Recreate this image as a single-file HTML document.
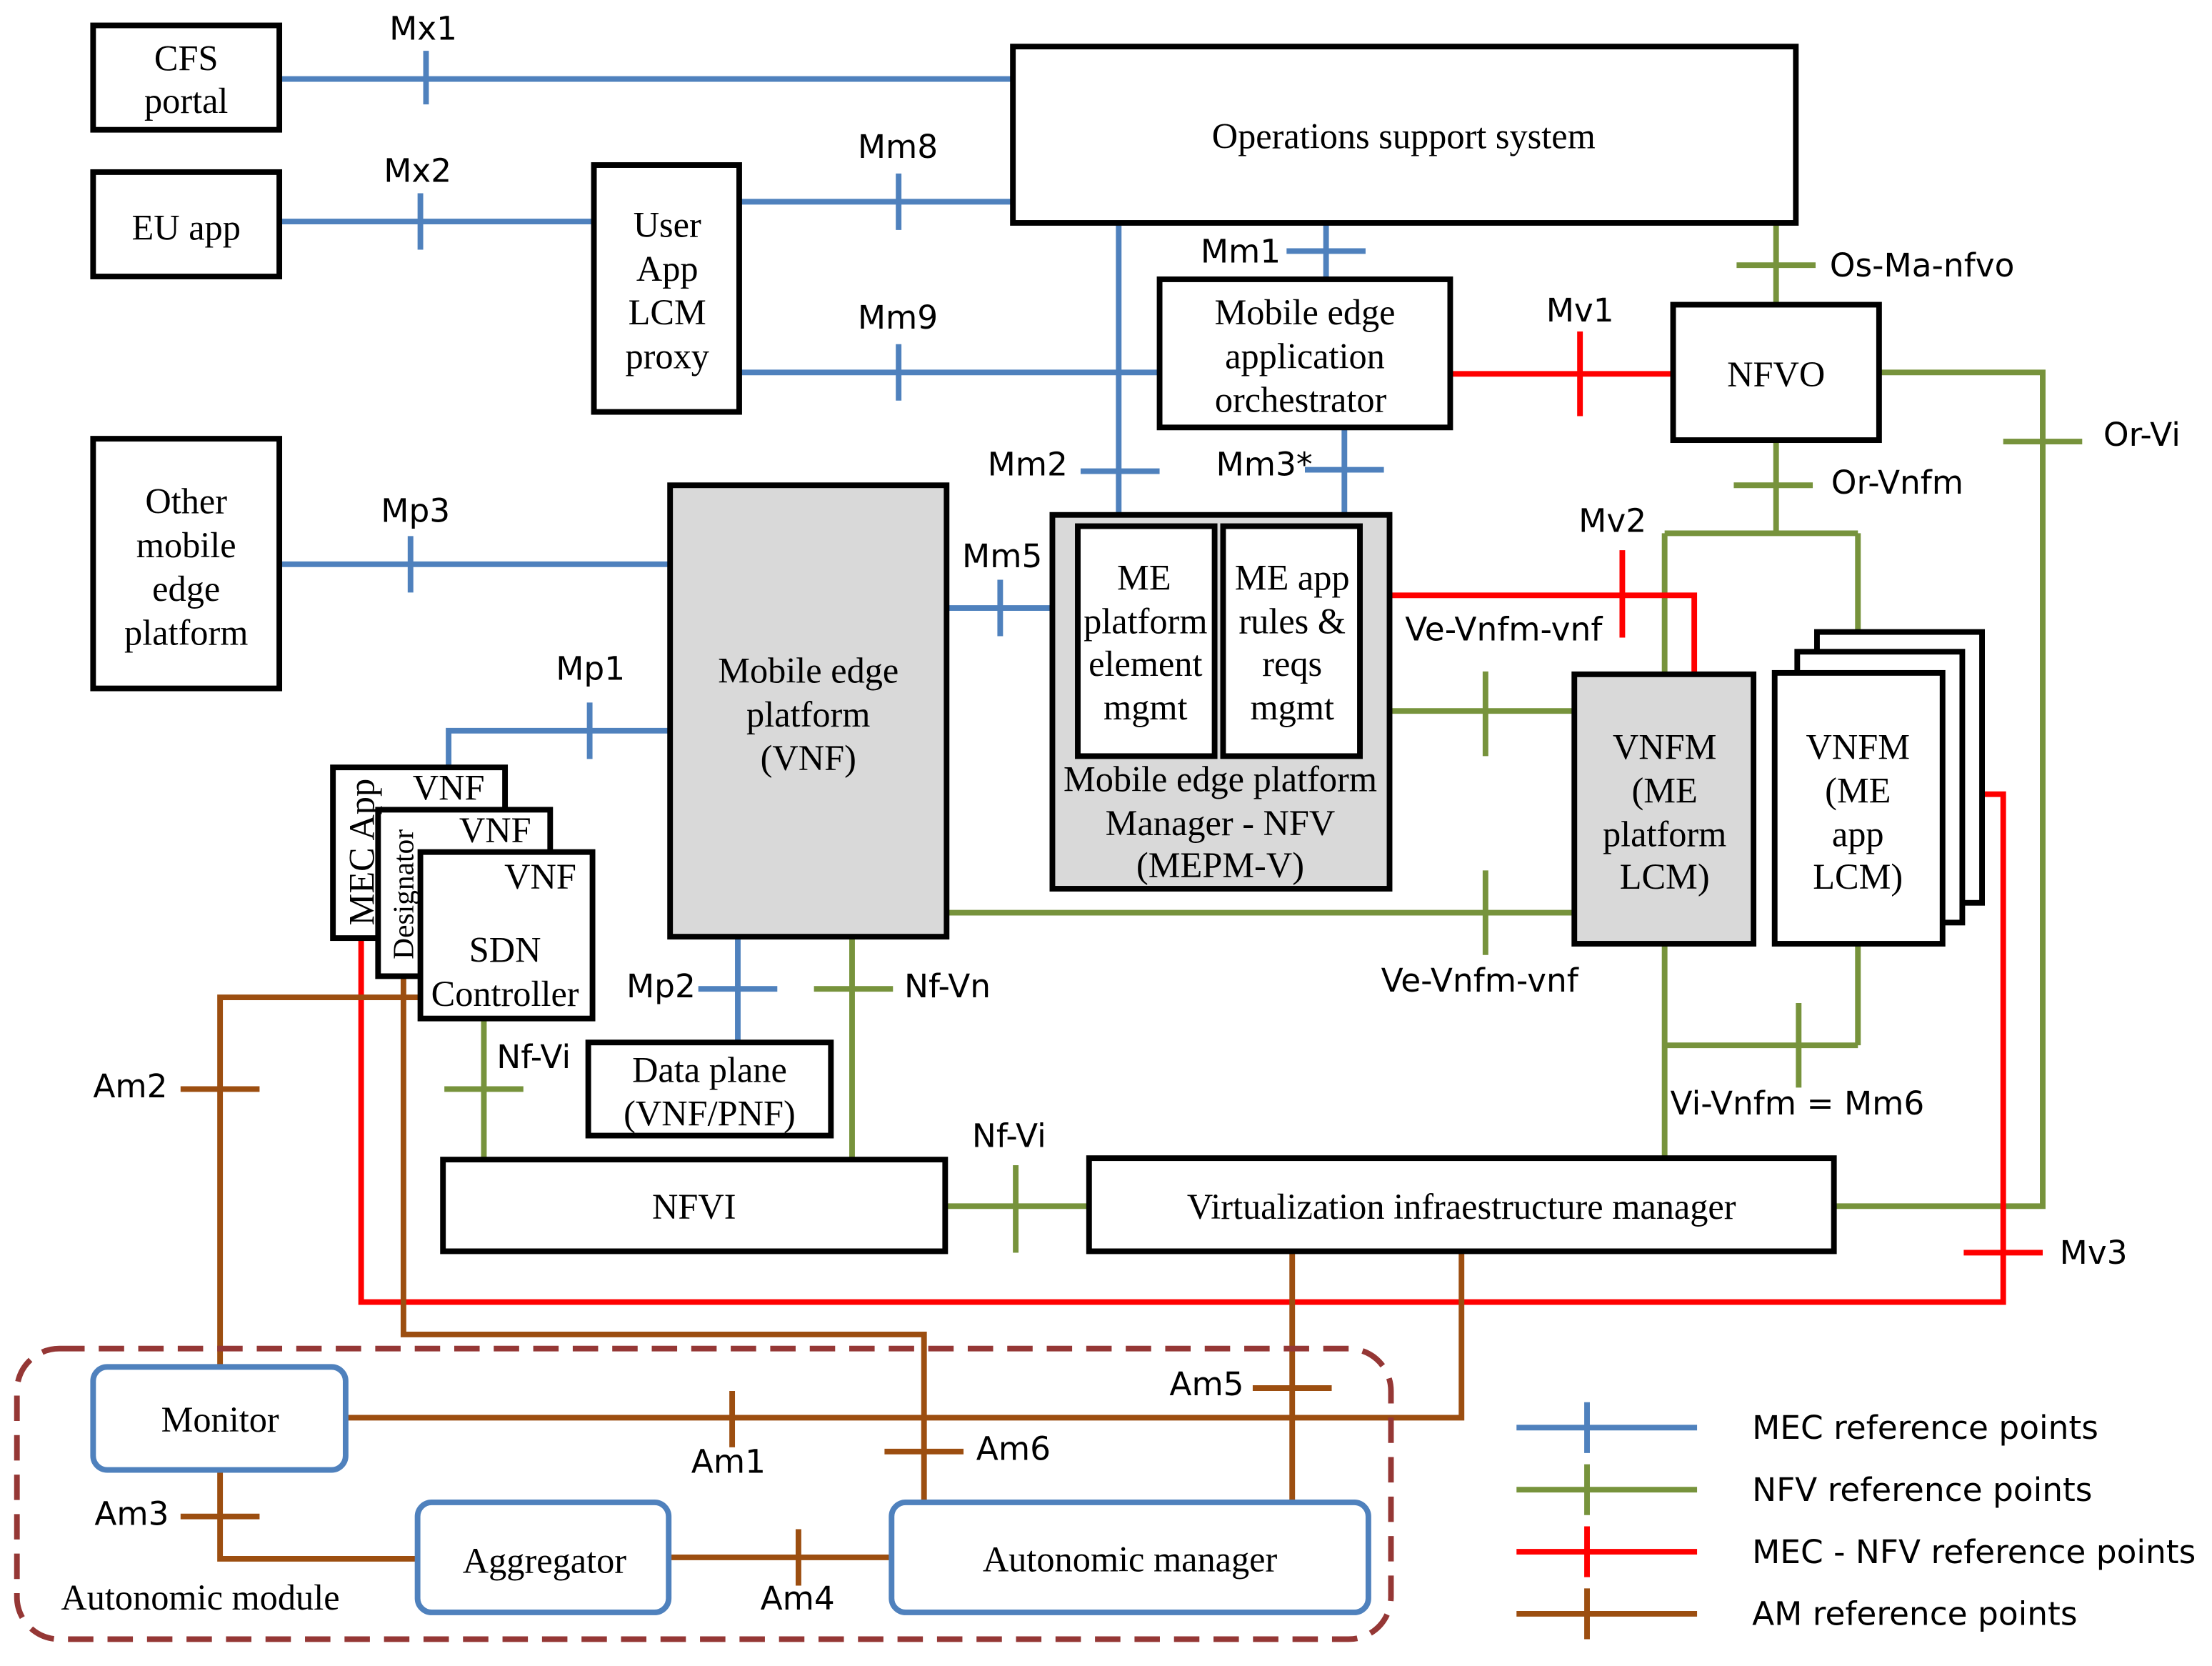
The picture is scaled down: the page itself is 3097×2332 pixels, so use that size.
<!DOCTYPE html>
<html><head><meta charset="utf-8"><style>
html,body{margin:0;padding:0;background:#fff}
svg{display:block}
.s{font-family:"DejaVu Sans","Liberation Sans",sans-serif;font-size:23px;fill:#000}
.r{font-family:"Liberation Serif",serif;font-size:25.5px;fill:#000;text-anchor:middle}
</style></head><body>
<svg width="3097" height="2332" viewBox="0 0 1568 1181" preserveAspectRatio="none" xmlns="http://www.w3.org/2000/svg">
<rect width="1600" height="1200" fill="#fff"/>
<g stroke="#4f81bd" stroke-width="4" fill="none">
<path d="M198 56H718M302 36V74"/>
<path d="M198 157H421M298 137V177"/>
<path d="M524 143H718M637 123V163"/>
<path d="M524 264H822M637 244V284"/>
<path d="M793 158V365M766 334H822"/>
<path d="M940 158V198M912 178H968"/>
<path d="M953 303V365M925 333H981"/>
<path d="M198 400H475M291 380V420"/>
<path d="M671 431H746M709 411V451"/>
<path d="M318 544V518H475M418 498V538"/>
<path d="M523 664V739M495 701H551"/>
</g>
<g stroke="#77933c" stroke-width="4" fill="none">
<path d="M1259 158V216M1231 188H1287"/>
<path d="M1332 264H1448V855H1300M1420 313H1476"/>
<path d="M1259 312V378M1229 344H1285M1180 378H1317M1180 378V478M1317 378V477"/>
<path d="M985 504H1116M1053 476V536"/>
<path d="M671 647H1116M1053 617V677"/>
<path d="M604 664V822M577 701H633"/>
<path d="M343 722V822M315 772H371"/>
<path d="M670 855H772M720 826V888"/>
<path d="M1180 669V821M1180 741H1317M1317 669V741M1275 711V771"/>
</g>
<g stroke="#ff0000" stroke-width="4" fill="none">
<path d="M1028 265H1186M1120 235V295"/>
<path d="M985 422H1201V478M1150 390V452"/>
<path d="M1377 563H1420V923H256V665M1392 888H1448"/>
</g>
<g stroke="#9c4e10" stroke-width="4" fill="none">
<path d="M298 707H156V969M128 772H184"/>
<path d="M286 692V946H655V1065M627 1029H683"/>
<path d="M916 887V1065M888 984H944"/>
<path d="M245 1005H1036V887M519 986V1026"/>
<path d="M156 1042V1105H296M128 1075H184"/>
<path d="M474 1104H632M566 1084V1124"/>
</g>
<g stroke="#000" stroke-width="4" fill="#fff">
<rect x="66" y="18" width="132" height="74"/>
<rect x="66" y="122" width="132" height="74"/>
<rect x="421" y="117" width="103" height="175"/>
<rect x="718" y="33" width="555" height="125"/>
<rect x="822" y="198" width="206" height="105"/>
<rect x="1186" y="216" width="146" height="96"/>
<rect x="66" y="311" width="132" height="177"/>
<rect x="475" y="344" width="196" height="320" fill="#d9d9d9"/>
<rect x="746" y="365" width="239" height="265" fill="#d9d9d9"/>
<rect x="764" y="373" width="97" height="163"/>
<rect x="867" y="373" width="97" height="163"/>
<rect x="1116" y="478" width="127" height="191" fill="#d9d9d9"/>
<rect x="1288" y="448" width="117" height="192"/>
<rect x="1274" y="462" width="117" height="192"/>
<rect x="1258" y="477" width="119" height="192"/>
<rect x="236" y="544" width="122" height="121"/>
<rect x="268" y="574" width="122" height="118"/>
<rect x="298" y="604" width="122" height="118"/>
<rect x="417" y="739" width="172" height="66"/>
<rect x="314" y="822" width="356" height="65"/>
<rect x="772" y="821" width="528" height="66"/>
</g>
<rect x="12" y="956" width="974" height="206" rx="30" fill="none" stroke="#953735" stroke-width="4" stroke-dasharray="18,10"/>
<g stroke="#4f81bd" stroke-width="4" fill="#fff">
<rect x="66" y="969" width="179" height="73" rx="10"/>
<rect x="296" y="1065" width="178" height="78" rx="10"/>
<rect x="632" y="1065" width="338" height="78" rx="10"/>
</g>
<g stroke-width="4">
<path d="M1075 1012H1203M1125 994V1030" stroke="#4f81bd"/>
<path d="M1075 1056H1203M1125 1038V1074" stroke="#77933c"/>
<path d="M1075 1100H1203M1125 1082V1118" stroke="#ff0000"/>
<path d="M1075 1144H1203M1125 1126V1162" stroke="#9c4e10"/>
</g>
<g class="s">
<text x="1242" y="1020">MEC reference points</text>
<text x="1242" y="1064">NFV reference points</text>
<text x="1242" y="1108">MEC - NFV reference points</text>
<text x="1242" y="1152">AM reference points</text>
<text x="276" y="28">Mx1</text>
<text x="272" y="129">Mx2</text>
<text x="608" y="112">Mm8</text>
<text x="608" y="233">Mm9</text>
<text x="851" y="186">Mm1</text>
<text x="700" y="337">Mm2</text>
<text x="862" y="337">Mm3*</text>
<text x="1096" y="228">Mv1</text>
<text x="1297" y="196">Os-Ma-nfvo</text>
<text x="1491" y="316">Or-Vi</text>
<text x="1298" y="350">Or-Vnfm</text>
<text x="1119" y="377">Mv2</text>
<text x="996" y="454">Ve-Vnfm-vnf</text>
<text x="979" y="703">Ve-Vnfm-vnf</text>
<text x="270" y="370">Mp3</text>
<text x="682" y="402">Mm5</text>
<text x="394" y="482">Mp1</text>
<text x="444" y="707">Mp2</text>
<text x="641" y="707">Nf-Vn</text>
<text x="352" y="757">Nf-Vi</text>
<text x="689" y="813">Nf-Vi</text>
<text x="1184" y="790">Vi-Vnfm = Mm6</text>
<text x="1460" y="896">Mv3</text>
<text x="66" y="778">Am2</text>
<text x="829" y="989">Am5</text>
<text x="692" y="1035">Am6</text>
<text x="490" y="1044">Am1</text>
<text x="67" y="1081">Am3</text>
<text x="539" y="1141">Am4</text>
</g>
<g class="r">
<text x="132" y="50">CFS</text><text x="132" y="80">portal</text>
<text x="132" y="170">EU app</text>
<text x="473" y="168">User</text><text x="473" y="199">App</text><text x="473" y="230">LCM</text><text x="473" y="261">proxy</text>
<text x="995" y="105">Operations support system</text>
<text x="925" y="230">Mobile edge</text><text x="925" y="261">application</text><text x="922" y="292">orchestrator</text>
<text x="1259" y="274">NFVO</text>
<text x="132" y="364">Other</text><text x="132" y="395">mobile</text><text x="132" y="426">edge</text><text x="132" y="457">platform</text>
<text x="573" y="484">Mobile edge</text><text x="573" y="515">platform</text><text x="573" y="546">(VNF)</text>
<text x="811" y="418">ME</text><text x="812" y="449">platform</text><text x="812" y="479">element</text><text x="812" y="510">mgmt</text>
<text x="916" y="418">ME app</text><text x="916" y="449">rules &amp;</text><text x="916" y="479">reqs</text><text x="916" y="510">mgmt</text>
<text x="865" y="561">Mobile edge platform</text><text x="865" y="592">Manager - NFV</text><text x="865" y="622">(MEPM-V)</text>
<text x="1180" y="538">VNFM</text><text x="1180" y="569">(ME</text><text x="1180" y="600">platform</text><text x="1180" y="630">LCM)</text>
<text x="1317" y="538">VNFM</text><text x="1317" y="569">(ME</text><text x="1317" y="600">app</text><text x="1317" y="630">LCM)</text>
<text x="318" y="567">VNF</text><text x="351" y="597">VNF</text><text x="383" y="630">VNF</text>
<text x="358" y="682">SDN</text><text x="358" y="713">Controller</text>
<text transform="translate(265,604) rotate(-90)">MEC App</text>
<text transform="translate(293,634) rotate(-90)" style="font-size:21px">Designator</text>
<text x="503" y="767">Data plane</text><text x="503" y="798">(VNF/PNF)</text>
<text x="492" y="864">NFVI</text>
<text x="1036" y="864">Virtualization infraestructure manager</text>
<text x="156" y="1015">Monitor</text>
<text x="386" y="1115">Aggregator</text>
<text x="801" y="1114">Autonomic manager</text>
<text x="142" y="1141">Autonomic module</text>
</g>
</svg>
</body></html>
